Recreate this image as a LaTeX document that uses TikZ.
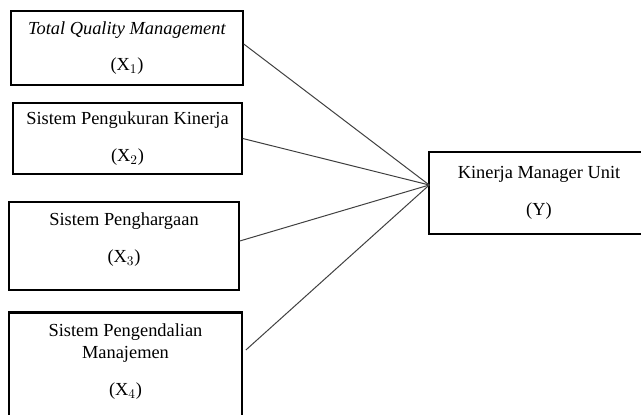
\documentclass[tikz,border=0pt]{standalone}
\usepackage{fontspec}
\setmainfont{Liberation Serif}
\usepackage{tikz}
\usetikzlibrary{positioning}

% extra room under the last line, so the text sits higher in its box
\newcommand{\padbelow}[2]{\raisebox{0pt}[\height][#1]{#2}}

\tikzset{
	varbox/.style={draw=black, line width=1.1pt, align=center, inner sep=0pt,
		font=\fontsize{13.8}{16.5}\selectfont},
	link/.style={draw=black!75, line width=0.75pt},
}

\begin{document}
\begin{tikzpicture}[x=0.75pt,y=-0.75pt]
\useasboundingbox (0,0) rectangle (641,414);

% variabel bebas
\node[varbox, minimum width=174pt,   minimum height=55.5pt ](x1) at (127,48)   {\textit{Total Quality Management}\\[11pt](X$_1$)};
\node[varbox, minimum width=171.75pt,minimum height=53.25pt](x2) at (127.5,138.5){Sistem Pengukuran Kinerja\\[11pt](X$_2$)};
\node[varbox, minimum width=172.5pt, minimum height=66pt   ](x3) at (124,246)  {Sistem Penghargaan\\[11pt]\padbelow{12.5pt}{(X$_3$)}};
\node[varbox, line width=1.8pt, minimum width=174.75pt, minimum height=86pt](x4) at (125.5,370){Sistem Pengendalian\\Manajemen\\[11pt]\padbelow{15.5pt}{(X$_4$)}};

% variabel terikat (sisi kanan terpotong)
\node[varbox, draw=none, minimum width=163.5pt, minimum height=60pt](y) at (539,193) {Kinerja Manager Unit\\[11pt](Y)};
\draw[line width=1.3pt] ([xshift=-5.25pt]y.north east) -- (y.north west) -- (y.south west) -- ([xshift=-5.25pt]y.south east);

\draw[link]([yshift=3pt]x1.east)-- ([yshift=6pt]y.west);
\draw[link](x2.east)-- ([yshift=6pt]y.west);
\draw[link]([yshift=3.75pt]x3.east)-- ([yshift=6pt]y.west);
\draw[link]([xshift=2pt,yshift=15pt]x4.east)-- ([yshift=6pt]y.west);
\end{tikzpicture}
\end{document}
